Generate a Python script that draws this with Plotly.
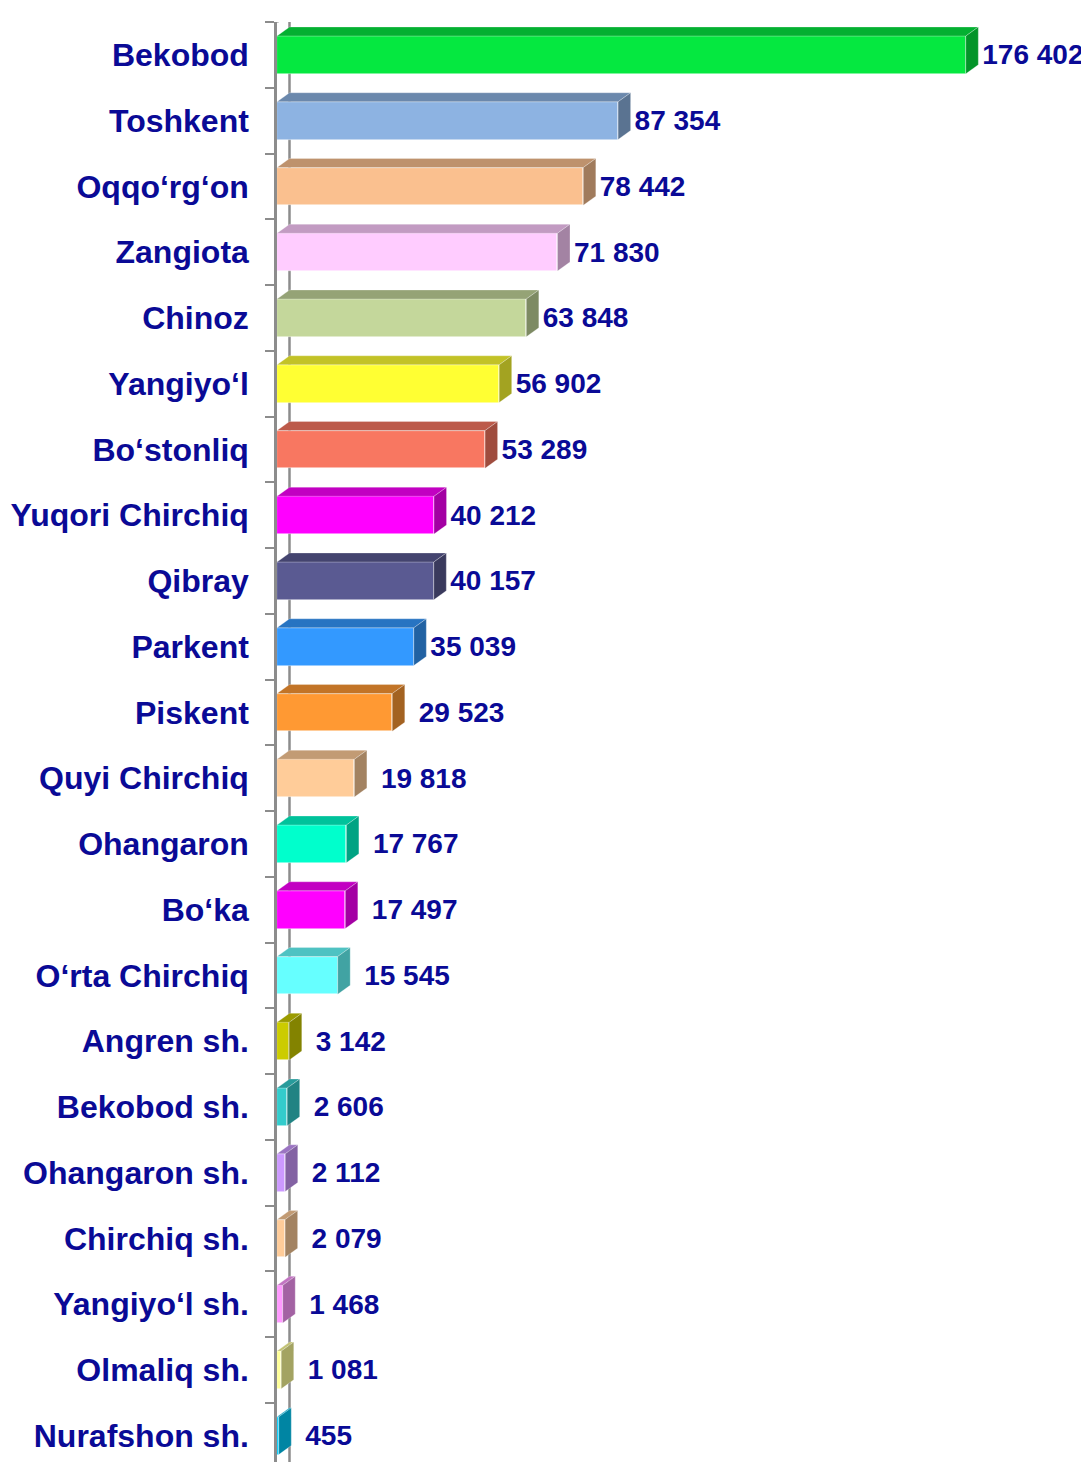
import plotly.graph_objects as go

# ---------------- data ----------------
categories = ["Bekobod", "Toshkent", "Oqqo‘rg‘on", "Zangiota", "Chinoz", "Yangiyo‘l",
              "Bo‘stonliq", "Yuqori Chirchiq", "Qibray", "Parkent", "Piskent",
              "Quyi Chirchiq", "Ohangaron", "Bo‘ka", "O‘rta Chirchiq", "Angren sh.",
              "Bekobod sh.", "Ohangaron sh.", "Chirchiq sh.", "Yangiyo‘l sh.",
              "Olmaliq sh.", "Nurafshon sh."]
values = [176402, 87354, 78442, 71830, 63848, 56902, 53289, 40212, 40157, 35039,
          29523, 19818, 17767, 17497, 15545, 3142, 2606, 2112, 2079, 1468, 1081, 455]

# ---------------- styles ----------------
front_colors = ["#05E840", "#8DB3E2", "#FAC08F", "#FFCCFF", "#C4D79B", "#FFFF33",
                "#F87761", "#FF00FF", "#5A5A92", "#3399FF", "#FF9933", "#FFCC99",
                "#00FFCC", "#FF00FF", "#66FFFF", "#CCCC00", "#33CCCC", "#CC99FF",
                "#FFCC99", "#FF99FF", "#FFFF99", "#00D0FF"]
TOP_SHADE = 0.76
SIDE_SHADE = 0.64
NAVY = "#0A0A96"
GREY = "#8C8C8C"
FONT = "Liberation Sans, Arial, sans-serif"

# the page has an 8px body margin, so the figure is laid out accordingly
W, H = 1089, 1463
ML, MR, MT, MB = 269, 0, 14, 9
X_MAX = 210000
Y_TOP, Y_BOT = -0.5, 21.4
px_x = (W - ML - MR) / X_MAX
px_y = (H - MT - MB) / (Y_BOT - Y_TOP)

DX = 12.5 / px_x          # depth in x data units
DY = 9.0 / px_y           # depth in category units
HALF = 0.287              # half bar height (category units)
GAP_LONG = 4.0 / px_x     # label gap for long bars
GAP_SHORT = 14.0 / px_x   # label gap for short bars
LABEL_DROP = 2.5 / px_y   # small vertical nudge of value labels


def shade(hexc, f):
    h = hexc.lstrip("#")
    r, g, b = (int(h[i:i + 2], 16) for i in (0, 2, 4))
    return "rgb(%d,%d,%d)" % (round(r * f), round(g * f), round(b * f))


fig = go.Figure()

ys = list(range(len(categories)))

# front faces
fig.add_trace(go.Bar(
    x=values, y=ys, orientation="h", width=2 * HALF,
    marker=dict(color=front_colors, line=dict(width=0.6, color="rgba(255,255,255,0.7)")),
    hoverinfo="skip", showlegend=False,
))

# top and side faces
for i, (v, c) in enumerate(zip(values, front_colors)):
    top = i - HALF
    bot = i + HALF
    fig.add_trace(go.Scatter(
        x=[0, v, v + DX, DX, 0], y=[top, top, top - DY, top - DY, top],
        fill="toself", fillcolor=shade(c, TOP_SHADE), mode="lines",
        line=dict(width=0.5, color="rgba(255,255,255,0.5)"),
        hoverinfo="skip", showlegend=False,
    ))
    fig.add_trace(go.Scatter(
        x=[v, v + DX, v + DX, v, v], y=[top, top - DY, bot - DY, bot, top],
        fill="toself", fillcolor=shade(c, SIDE_SHADE), mode="lines",
        line=dict(width=0.5, color="rgba(255,255,255,0.5)"),
        hoverinfo="skip", showlegend=False,
    ))

# value labels
labels = [f"{v:,}".replace(",", " ") for v in values]
label_x = [v + DX + (GAP_LONG if v > 30000 else GAP_SHORT) for v in values]
fig.add_trace(go.Scatter(
    x=label_x, y=[i + LABEL_DROP for i in ys],
    mode="text", text=labels, textposition="middle right",
    textfont=dict(family=FONT, size=28, color=NAVY, weight="bold"),
    cliponaxis=False, hoverinfo="skip", showlegend=False,
))

# back wall line of the axis (behind bars)
fig.add_shape(type="line", xref="x", yref="y", layer="below",
              x0=DX, x1=DX, y0=Y_TOP - DY * 1.15, y1=Y_BOT,
              line=dict(color=GREY, width=2.5))
fig.add_shape(type="line", xref="x", yref="y", layer="below",
              x0=0, x1=DX, y0=Y_TOP, y1=Y_TOP - DY * 1.15,
              line=dict(color=GREY, width=2.5))

fig.update_layout(
    width=W, height=H,
    margin=dict(l=ML, r=MR, t=MT, b=MB),
    paper_bgcolor="white", plot_bgcolor="white",
    bargap=0,
    xaxis=dict(range=[0, X_MAX], showgrid=False, zeroline=False, showline=False,
               showticklabels=False, ticks=""),
    yaxis=dict(range=[Y_BOT, Y_TOP], tickmode="array", tickvals=ys, ticktext=categories,
               showgrid=False, zeroline=False, showline=True, linecolor=GREY, linewidth=2.5,
               ticks="", ticklabelstandoff=19, automargin=False,
               tickfont=dict(family=FONT, size=32, color=NAVY, weight="bold"),
               minor=dict(tickmode="array", tickvals=[k - 0.5 for k in ys],
                          ticks="outside", ticklen=9, tickwidth=2, tickcolor=GREY,
                          showgrid=False)),
)

fig.write_html("out.html")
